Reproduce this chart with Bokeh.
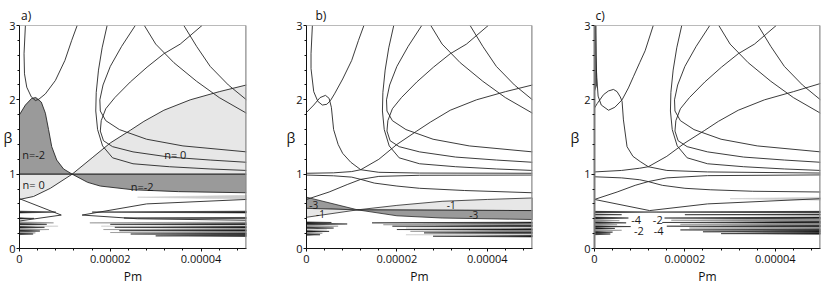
from bokeh.plotting import figure
from bokeh.layouts import row
from bokeh.models import FixedTicker, Span
from bokeh.embed import file_html
from bokeh.resources import INLINE
from bokeh.core.properties import value

FONT = "Open Sans"

# ---------------- axes (Pm in units of 1e-5) ----------------
X_TICKS = [0, 2, 4]
X_LABELS = ["0", "0.00002", "0.00004"]
X_MINOR = [0.4, 0.8, 1.2, 1.6, 2.4, 2.8, 3.2, 3.6, 4.4, 4.8]
Y_TICKS = [0, 1, 2, 3]
Y_MINOR = [0.2, 0.4, 0.6, 0.8, 1.2, 1.4, 1.6, 1.8, 2.2, 2.4, 2.6, 2.8]
X_MAX = 5.0
Y_MAX = 3.0
PANEL_TAGS = ["a)", "b)", "c)"]

# ---------------- curves common to all panels ----------------
CA_U = [1.93, 1.82, 1.74, 1.69, 1.68, 1.72, 1.83, 2.05, 2.5, 3.3, 4.2, 5.0]
CA_B = [3.0, 2.7, 2.4, 2.1, 1.85, 1.6, 1.38, 1.22, 1.14, 1.1, 1.07, 1.05]
CB_U = [4.02, 3.54, 3.18, 2.81, 2.44, 2.1, 1.9, 1.8, 1.78, 1.85, 2.05, 2.5, 3.3, 4.2, 5.0]
CB_B = [3.0, 2.75, 2.62, 2.44, 2.24, 2.03, 1.88, 1.72, 1.58, 1.45, 1.37, 1.3, 1.23, 1.19, 1.16]
CC_U = [2.55, 2.25, 2.0, 1.84, 1.77, 1.78, 1.9, 2.2, 2.8, 3.6, 5.0]
CC_B = [3.0, 2.72, 2.45, 2.2, 2.0, 1.85, 1.72, 1.6, 1.47, 1.38, 1.3]
D1_U = [2.75, 3.0, 3.4, 3.9, 4.4, 5.0]
D1_B = [3.0, 2.75, 2.5, 2.25, 2.03, 1.82]
D2_U = [3.62, 3.9, 4.2, 4.6, 5.0]
D2_B = [3.0, 2.72, 2.45, 2.2, 2.0]

# ---------------- panel a ----------------
A_U_U = [0.13, 0.10, 0.11, 0.16, 0.26, 0.35, 0.43, 0.57, 0.79, 1.0, 1.15, 1.27]
A_U_B = [3.0, 2.62, 2.35, 2.17, 2.04, 1.99, 2.01, 2.08, 2.26, 2.53, 2.8, 3.0]
A_Q_U = [0, 0.13, 0.27, 0.36, 0.48, 0.57, 0.64, 0.71, 0.82, 0.97, 1.16, 1.5, 1.78, 2.5, 3.5, 5.0]
A_Q_B = [1.8, 1.93, 2.02, 2.03, 1.97, 1.82, 1.6, 1.37, 1.19, 1.07, 1.0, 0.89, 0.84, 0.79, 0.765, 0.75]
A_P_U = [0, 0.31, 0.68, 1.16, 1.6, 2.0, 2.44, 2.74, 3.18, 3.76, 4.4, 5.0]
A_P_B = [0.66, 0.70, 0.81, 1.0, 1.22, 1.42, 1.59, 1.71, 1.86, 2.0, 2.11, 2.2]
A_H_U = [0, 5.0]
A_H_B = [1.0, 1.0]
A_CROSS = 1.16
A_VL_U = [0, 0.92, 0]
A_VL_B = [0.67, 0.45, 0.37]
A_VR_U = [5.0, 2.8, 1.38, 2.6, 5.0]
A_VR_B = [0.66, 0.6, 0.45, 0.4, 0.38]
A_LAB_T = ["n=-2", "n= 0", "n= 0", "n=-2"]
A_LAB_U = [0.31, 0.31, 3.43, 2.7]
A_LAB_B = [1.26, 0.86, 1.26, 0.84]
A_SL_B = [0.49, 0.405, 0.345, 0.325, 0.30, 0.285, 0.255, 0.235, 0.21, 0.195]
A_SL_T = [0.8, 0.32, 0.75, 0.6, 0.85, 0.55, 0.65, 0.45, 0.35, 0.3]
A_SL_H = [0.012, 0.008, 0.014, 0.008, 0.012, 0.01, 0.012, 0.009, 0.012, 0.008]
A_SL_C = ["k", "k", "g", "k", "l", "k", "g", "k", "g", "k"]
A_SR_B = [0.69, 0.49, 0.41, 0.345, 0.325, 0.30, 0.285, 0.255, 0.24, 0.215, 0.195, 0.17]
A_SR_T = [2.6, 1.6, 2.3, 1.55, 2.0, 1.8, 2.1, 1.85, 2.2, 2.0, 2.45, 3.0]
A_SR_H = [0.025, 0.012, 0.008, 0.012, 0.008, 0.012, 0.01, 0.012, 0.009, 0.01, 0.009, 0.008]
A_SR_C = ["l", "k", "k", "g", "k", "l", "k", "g", "k", "g", "k", "k"]

# ---------------- panel b ----------------
B_U_U = [0.13, 0.10, 0.10, 0.16, 0.25, 0.35, 0.45, 0.53, 0.62, 0.8, 1.0, 1.15, 1.27]
B_U_B = [3.0, 2.62, 2.42, 2.11, 1.98, 1.93, 1.94, 1.99, 2.08, 2.28, 2.53, 2.8, 3.0]
B_QU_U = [0, 0.16, 0.3, 0.42, 0.5, 0.55, 0.6, 0.7, 0.8, 0.98, 1.2, 1.6, 2.5, 5.0]
B_QU_B = [1.83, 1.93, 2.03, 2.06, 2.02, 1.9, 1.6, 1.4, 1.28, 1.16, 1.06, 1.025, 1.015, 1.012]
B_PU_U = [0, 0.6, 1.0, 1.2, 1.6, 2.0, 2.44, 2.74, 3.18, 3.76, 4.4, 5.0]
B_PU_B = [1.012, 1.018, 1.035, 1.06, 1.2, 1.4, 1.58, 1.7, 1.86, 2.0, 2.11, 2.2]
B_PL_U = [0, 0.5, 0.9, 1.2, 1.6, 2.5, 5.0]
B_PL_B = [0.66, 0.76, 0.86, 0.93, 0.97, 0.985, 0.988]
B_QL_U = [0, 0.6, 1.0, 1.2, 1.5, 2.0, 2.5, 3.5, 5.0]
B_QL_B = [0.988, 0.978, 0.96, 0.93, 0.88, 0.84, 0.81, 0.78, 0.75]
B_DKL_U = [0, 1.13, 0]
B_DKL_B = [0.69, 0.52, 0.54]
B_LTL_U = [0, 1.13, 0]
B_LTL_B = [0.54, 0.52, 0.42]
B_LTR_U = [1.13, 2.0, 3.0, 4.0, 5.0, 5.0]
B_LTR_B = [0.52, 0.58, 0.635, 0.66, 0.68, 0.51]
B_DKR_U = [1.13, 5.0, 5.0, 3.0, 2.0]
B_DKR_B = [0.52, 0.51, 0.39, 0.41, 0.44]
B_LAB_T = ["-3", "-1", "-1", "-3"]
B_LAB_U = [0.16, 0.31, 3.2, 3.7]
B_LAB_B = [0.59, 0.47, 0.58, 0.45]
B_SL_B = [0.35, 0.33, 0.30, 0.275, 0.25, 0.23, 0.205, 0.185]
B_SL_T = [0.55, 0.9, 0.7, 0.6, 0.45, 0.5, 0.35, 0.3]
B_SL_H = [0.008, 0.012, 0.012, 0.01, 0.012, 0.01, 0.01, 0.008]
B_SL_C = ["k", "k", "g", "k", "l", "k", "g", "k"]
B_SR_B = [0.345, 0.32, 0.30, 0.275, 0.255, 0.23, 0.21, 0.185, 0.165]
B_SR_T = [1.45, 1.7, 1.9, 2.2, 2.0, 2.3, 2.6, 2.2, 2.8]
B_SR_H = [0.01, 0.012, 0.01, 0.012, 0.01, 0.012, 0.01, 0.01, 0.01]
B_SR_C = ["k", "g", "k", "l", "k", "g", "k", "l", "k"]

# ---------------- panel c ----------------
C_U_U = [0.02, 0.03, 0.05, 0.08, 0.15, 0.31, 0.45, 0.61, 0.75, 0.86, 1.0, 1.12, 1.3]
C_U_B = [3.0, 2.6, 2.3, 2.05, 1.93, 1.86, 1.9, 2.0, 2.16, 2.31, 2.5, 2.66, 3.0]
C_QU_U = [0, 0.06, 0.2, 0.31, 0.42, 0.5, 0.57, 0.61, 0.64, 0.72, 0.85, 1.01, 1.19, 1.6, 2.5, 5.0]
C_QU_B = [1.89, 1.95, 2.07, 2.12, 2.14, 2.11, 2.04, 1.98, 1.73, 1.37, 1.24, 1.17, 1.1, 1.05, 1.03, 1.015]
C_PU_U = [0, 0.6, 1.0, 1.19, 1.6, 2.0, 2.44, 2.74, 3.18, 3.76, 4.4, 5.0]
C_PU_B = [1.03, 1.05, 1.08, 1.1, 1.24, 1.42, 1.59, 1.71, 1.86, 2.0, 2.11, 2.22]
C_PL_U = [0, 0.5, 0.9, 1.19, 1.6, 2.5, 5.0]
C_PL_B = [0.66, 0.76, 0.85, 0.9, 0.95, 0.98, 0.99]
C_QL_U = [0, 0.6, 1.0, 1.19, 1.5, 2.0, 2.56, 3.5, 5.0]
C_QL_B = [0.965, 0.95, 0.925, 0.9, 0.85, 0.81, 0.79, 0.77, 0.76]
C_STRIP_U = [0, 0.045, 0.05, 0.06, 0]
C_STRIP_B = [3.0, 3.0, 2.6, 2.2, 2.1]
C_V_U = [0, 1.22, 2.5, 5.0]
C_V_B = [0.66, 0.51, 0.6, 0.67]
C_LAB_T = ["-4", "-2", "-2", "-4"]
C_LAB_U = [0.92, 1.4, 0.98, 1.42]
C_LAB_B = [0.39, 0.39, 0.23, 0.23]
C_SL_B = [0.49, 0.455, 0.41, 0.375, 0.345, 0.32, 0.295, 0.27, 0.245, 0.22, 0.195]
C_SL_T = [1.25, 0.6, 0.75, 0.55, 0.7, 0.5, 0.8, 0.45, 0.6, 0.4, 0.35]
C_SL_H = [0.01, 0.006, 0.014, 0.014, 0.01, 0.012, 0.008, 0.01, 0.01, 0.01, 0.01]
C_SL_C = ["k", "k", "k", "g", "k", "g", "k", "k", "g", "k", "k"]
C_SR_B = [0.67, 0.49, 0.455, 0.41, 0.38, 0.35, 0.325, 0.30, 0.275, 0.25, 0.225, 0.2]
C_SR_T = [3.0, 1.25, 2.0, 1.55, 1.7, 1.5, 1.9, 1.6, 2.1, 1.9, 2.4, 2.8]
C_SR_H = [0.02, 0.01, 0.006, 0.014, 0.02, 0.012, 0.015, 0.01, 0.012, 0.01, 0.01, 0.008]
C_SR_C = ["l", "k", "k", "k", "g", "k", "g", "k", "g", "k", "k", "k"]

# ---------------- styling ----------------
COL = {"k": "#1c1c1c", "g": "#8e8e8e", "l": "#cdcdcd"}
DARK = "#9a9a9a"
LIGHT = "#e7e7e7"
LINE = "#262626"
FIG_H = 287


def make_fig(width, left, right, tag, tag_dx, beta_standoff, left_axis_color="#111111", left_axis_w=1):
    p = figure(width=width, height=FIG_H, x_range=(0, X_MAX), y_range=(0, Y_MAX),
               output_backend="svg", toolbar_location=None,
               min_border_left=left, min_border_right=right,
               min_border_top=25, min_border_bottom=38)
    p.xgrid.visible = False
    p.ygrid.visible = False
    p.outline_line_color = None
    p.background_fill_color = "white"
    p.border_fill_color = "white"
    # panel tag as title
    p.title.text = tag
    p.title.align = "left"
    p.title.offset = tag_dx
    p.title.standoff = 4
    p.title.text_font = FONT
    p.title.text_font_size = "12px"
    p.title.text_font_style = "normal"
    p.title.text_color = "#111111"
    p.xaxis.ticker = FixedTicker(ticks=X_TICKS, minor_ticks=X_MINOR)
    p.xaxis.major_label_overrides = {t: s for t, s in zip(X_TICKS, X_LABELS)}
    p.yaxis.ticker = FixedTicker(ticks=Y_TICKS, minor_ticks=Y_MINOR)
    for ax in (p.xaxis[0], p.yaxis[0]):
        ax.major_label_text_font = FONT
        ax.major_label_text_font_size = "11px"
        ax.major_label_text_color = "#111111"
        ax.major_tick_in = 0
        ax.major_tick_out = 3
        ax.minor_tick_in = 0
        ax.minor_tick_out = 2
        ax.major_tick_line_color = "#111111"
        ax.minor_tick_line_color = "#111111"
        ax.axis_label_text_font = FONT
        ax.axis_label_text_font_style = "normal"
        ax.axis_label_text_color = "#111111"
    p.xaxis.axis_line_color = "#111111"
    p.yaxis.axis_line_color = left_axis_color
    p.yaxis.axis_line_width = left_axis_w
    p.xaxis.major_label_standoff = 3
    p.yaxis.major_label_standoff = 1
    p.xaxis.axis_label = "Pm"
    p.xaxis.axis_label_text_font_size = "12px"
    p.xaxis.axis_label_standoff = 2
    p.yaxis.axis_label = "β"
    p.yaxis.axis_label_orientation = "horizontal"
    p.yaxis.axis_label_text_font_size = "14px"
    p.yaxis.axis_label_standoff = beta_standoff
    return p


def wedges(p, side, betas, tips, halves, codes):
    base = 0 if side == "left" else X_MAX
    xs, ys, cs = [], [], []
    for b, t, h, c in zip(betas, tips, halves, codes):
        xs.append([base, t, base])
        ys.append([b + h, b, b - h])
        cs.append(COL[c])
    p.patches(xs, ys, fill_color=cs, line_color=cs, line_width=0.6)


def curves(p, pairs, width=0.9):
    p.multi_line([u for u, _ in pairs], [b for _, b in pairs], line_color=LINE, line_width=width)


def frame_lines(p):
    p.add_layout(Span(location=X_MAX, dimension="height", line_color="#8c8c8c", line_width=2.5))
    p.add_layout(Span(location=Y_MAX, dimension="width", line_color="#777777", line_width=1))


def labels(p, t, u, b, size="11px"):
    p.text(u, b, text=t, text_font=value(FONT), text_font_size=size,
           text_align="center", text_baseline="middle", text_color="#1a1a1a")


COMMON = [(CA_U, CA_B), (CB_U, CB_B), (CC_U, CC_B), (D1_U, D1_B), (D2_U, D2_B)]

# ---------------- panel a ----------------
pa = make_fig(278, 19, 32, PANEL_TAGS[0], 1.5, -6)
iq = A_Q_U.index(A_CROSS)
ip = A_P_U.index(A_CROSS)
pa.patch(A_Q_U[:iq + 1] + [0], A_Q_B[:iq + 1] + [1.0], fill_color=DARK, line_color=None)
pa.patch(A_P_U[:ip + 1] + [0], A_P_B[:ip + 1] + [1.0], fill_color=LIGHT, line_color=None)
pa.patch(A_P_U[ip:] + [X_MAX], A_P_B[ip:] + [1.0], fill_color=LIGHT, line_color=None)
pa.patch(A_Q_U[iq:] + [X_MAX], A_Q_B[iq:] + [1.0], fill_color=DARK, line_color=None)
wedges(pa, "left", A_SL_B, A_SL_T, A_SL_H, A_SL_C)
wedges(pa, "right", A_SR_B, A_SR_T, A_SR_H, A_SR_C)
curves(pa, COMMON + [(A_U_U, A_U_B), (A_Q_U, A_Q_B), (A_P_U, A_P_B),
                     (A_VL_U, A_VL_B), (A_VR_U, A_VR_B)])
curves(pa, [(A_H_U, A_H_B)], width=1.3)
labels(pa, A_LAB_T, A_LAB_U, A_LAB_B)
frame_lines(pa)

# ---------------- panel b ----------------
pb = make_fig(288, 28, 34, PANEL_TAGS[1], 9, -2)
pb.patch(B_DKL_U, B_DKL_B, fill_color=DARK, line_color=LINE, line_width=0.8)
pb.patch(B_LTL_U, B_LTL_B, fill_color=LIGHT, line_color=LINE, line_width=0.8)
pb.patch(B_LTR_U, B_LTR_B, fill_color=LIGHT, line_color=LINE, line_width=0.8)
pb.patch(B_DKR_U, B_DKR_B, fill_color=DARK, line_color=LINE, line_width=0.8)
wedges(pb, "left", B_SL_B, B_SL_T, B_SL_H, B_SL_C)
wedges(pb, "right", B_SR_B, B_SR_T, B_SR_H, B_SR_C)
curves(pb, COMMON + [(B_U_U, B_U_B), (B_QU_U, B_QU_B), (B_PU_U, B_PU_B),
                     (B_PL_U, B_PL_B), (B_QL_U, B_QL_B)])
labels(pb, B_LAB_T, B_LAB_U, B_LAB_B, size="10px")
frame_lines(pb)

# ---------------- panel c ----------------
pc = make_fig(256, 28, 2, PANEL_TAGS[2], 1, 2, left_axis_color="#7a7a7a", left_axis_w=2)
pc.patch(C_STRIP_U, C_STRIP_B, fill_color="#555555", line_color=None)
wedges(pc, "left", C_SL_B, C_SL_T, C_SL_H, C_SL_C)
wedges(pc, "right", C_SR_B, C_SR_T, C_SR_H, C_SR_C)
curves(pc, COMMON + [(C_U_U, C_U_B), (C_QU_U, C_QU_B), (C_PU_U, C_PU_B),
                     (C_PL_U, C_PL_B), (C_QL_U, C_QL_B), (C_V_U, C_V_B)])
labels(pc, C_LAB_T, C_LAB_U, C_LAB_B)
frame_lines(pc)

layout = row(pa, pb, pc)
open("out.html", "w").write(file_html(layout, INLINE))
